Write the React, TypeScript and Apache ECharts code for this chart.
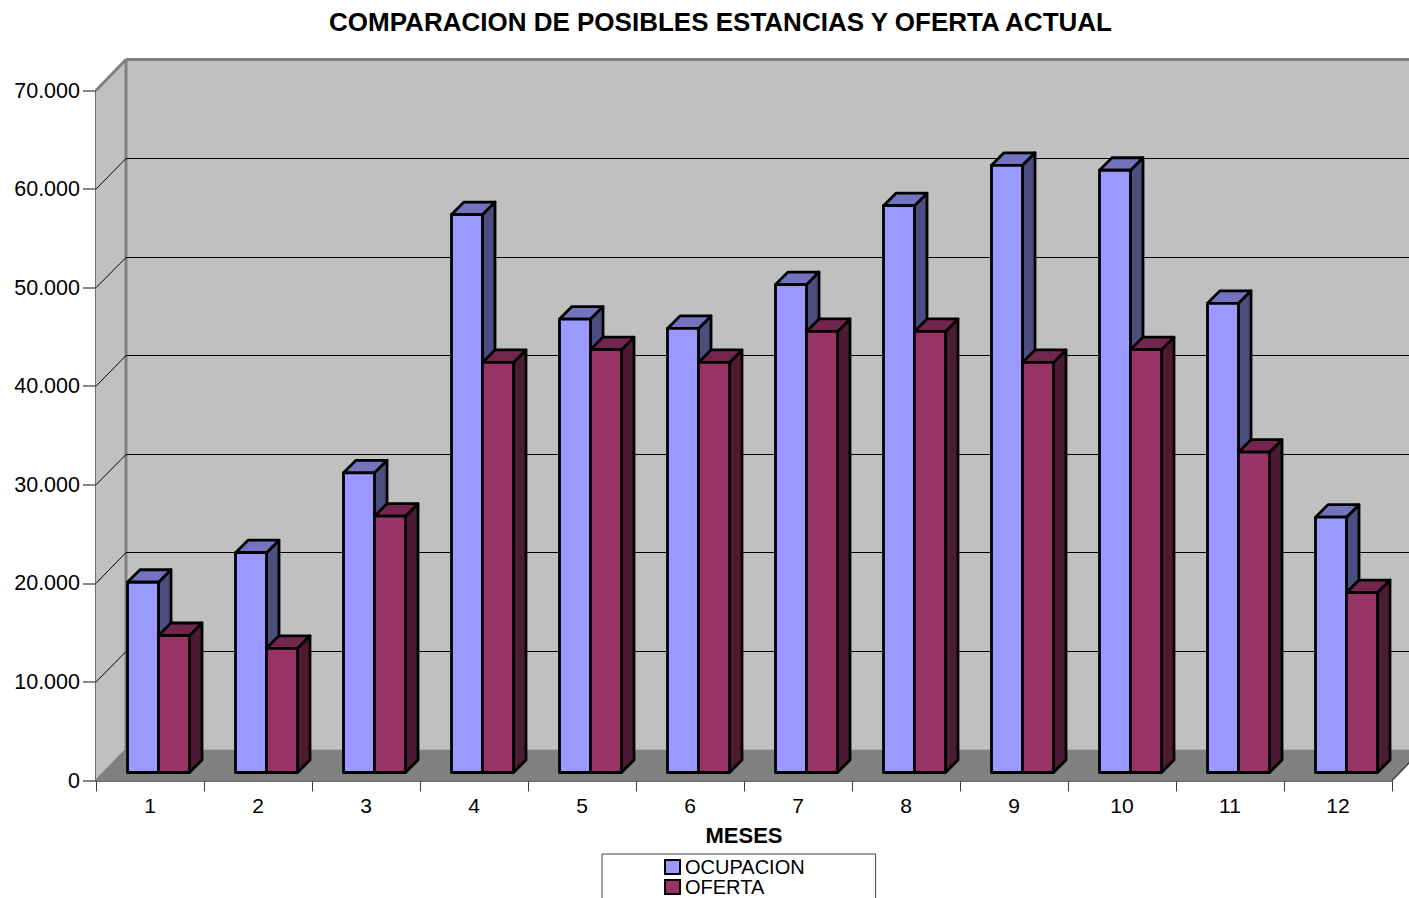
import React, { useEffect, useRef } from "react";
import * as echarts from "echarts";

const months = ["1", "2", "3", "4", "5", "6", "7", "8", "9", "10", "11", "12"];
const ocupacion = [19300, 22300, 30400, 56600, 46000, 45050, 49500, 57500, 61600, 61100, 47600, 25900];
const oferta = [13900, 12600, 26000, 41600, 42900, 41600, 44750, 44750, 41600, 42900, 32500, 18250];
const yTicks = [0, 10000, 20000, 30000, 40000, 50000, 60000, 70000];

const FONT = "'Liberation Sans', Arial, sans-serif";
const DX = 30;
const DY = 31;
const BAR_D = 12.5;
const BAR_W = 31;
const BAR_LIFT = 8;
const BAR_OFFSET = 31.5;

const darkLine = "#000000";

function polygon(points: number[][], fill: string, stroke: string, lineWidth: number) {
  return {
    type: "polygon",
    shape: { points },
    style: { fill, stroke, lineWidth, lineJoin: "round" },
  };
}

function line(x1: number, y1: number, x2: number, y2: number, stroke: string, lineWidth: number) {
  return { type: "line", shape: { x1, y1, x2, y2 }, style: { stroke, lineWidth } };
}

function renderWall(params: any, api: any) {
  const band = api.size([1, 0])[0];
  const left = api.coord([0, 0])[0] - band / 2;
  const right = api.coord([months.length - 1, 0])[0] + band / 2;
  const bottom = api.coord([0, 0])[1];
  const top = api.coord([0, yTicks[yTicks.length - 1]])[1];
  const value = api.value(1);
  const y = api.coord([0, value])[1];
  const children: any[] = [];
  if (params.dataIndex === 0) {
    children.push(
      polygon([[left + DX, top - DY], [right + DX, top - DY], [right + DX, bottom - DY], [left + DX, bottom - DY]], "#c0c0c0", "none", 0),
      polygon([[left, top], [left + DX, top - DY], [left + DX, bottom - DY], [left, bottom]], "#c0c0c0", "none", 0),
      polygon([[left, bottom], [left + DX, bottom - DY], [right + DX, bottom - DY], [right, bottom]], "#808080", "none", 0),
      line(left + DX, top - DY, right + DX, top - DY, "#808080", 3),
      line(left + DX, top - DY, left + DX, bottom - DY, "#808080", 3),
      line(left, top, left + DX, top - DY, "#808080", 3),
      line(left, bottom, left + DX, bottom - DY, "#808080", 2),
      line(right, bottom, right + DX, bottom - DY, "#404040", 1.5),
    );
  } else if (value < yTicks[yTicks.length - 1]) {
    const back = Math.round(y - DY) + 0.5;
    children.push(
      line(left, y, left + DX, back, darkLine, 1),
      line(left + DX, back, right + DX, back, darkLine, 1),
    );
  }
  return { type: "group", children };
}

function makeBarRenderer(position: number, front: string, topColor: string, side: string) {
  return (_params: any, api: any) => {
    const cat = api.value(0);
    const band = api.size([1, 0])[0];
    const x = api.coord([cat, 0])[0] - band / 2 + BAR_OFFSET + position * BAR_W;
    const base = api.coord([cat, 0])[1] - BAR_LIFT;
    const y = api.coord([cat, api.value(1)])[1] - BAR_LIFT;
    const w = BAR_W;
    const d = BAR_D;
    return {
      type: "group",
      children: [
        polygon([[x + w, y], [x + w + d, y - d], [x + w + d, base - d], [x + w, base]], side, "#000", 2.8),
        polygon([[x, y], [x + d, y - d], [x + w + d, y - d], [x + w, y]], topColor, "#000", 2.8),
        polygon([[x, y], [x + w, y], [x + w, base], [x, base]], front, "#000", 2.8),
      ],
    };
  };
}

export default function App() {
  const ref = useRef<HTMLDivElement>(null);

  useEffect(() => {
    document.body.style.margin = "0";
    document.body.style.overflow = "hidden";
    const chart = echarts.init(ref.current!, null, { renderer: "svg" });
    chart.setOption({
      animation: false,
      backgroundColor: "#ffffff",
      textStyle: { fontFamily: FONT, color: "#000" },
      title: {
        text: "COMPARACION DE POSIBLES ESTANCIAS Y OFERTA ACTUAL",
        left: 715.5,
        top: 4,
        textAlign: "center",
        textStyle: { fontFamily: FONT, fontSize: 26, fontWeight: "bold", color: "#000" },
      },
      grid: { left: 96, top: 90.5, width: 1296, height: 690, containLabel: false },
      legend: {
        left: 602,
        top: 854,
        height: 80,
        orient: "vertical",
        data: ["OCUPACION", "OFERTA"],
        padding: [3, 71, 14, 62],
        itemGap: 0,
        itemWidth: 15,
        itemHeight: 14,
        borderColor: "#404040",
        borderWidth: 1,
        backgroundColor: "#ffffff",
        selectedMode: false,
        icon: "rect",
        textStyle: { fontFamily: FONT, fontSize: 20, color: "#000", lineHeight: 14 },
        itemStyle: { borderColor: "#000", borderWidth: 2 },
      },
      xAxis: {
        type: "category",
        data: months,
        name: "MESES",
        nameLocation: "middle",
        nameGap: 44,
        nameTextStyle: { fontFamily: FONT, fontSize: 22, fontWeight: "bold", color: "#000" },
        axisLine: { show: true, onZero: false, lineStyle: { color: "#404040", width: 1.5 } },
        axisTick: { show: true, length: 11, lineStyle: { color: "#404040", width: 1 } },
        axisLabel: { fontFamily: FONT, fontSize: 21, color: "#000", margin: 14 },
        splitLine: { show: false },
      },
      yAxis: {
        type: "value",
        min: 0,
        max: 70000,
        interval: 10000,
        axisLine: { show: true, lineStyle: { color: "#404040", width: 1.5 } },
        axisTick: { show: true, length: 13, lineStyle: { color: "#606060", width: 1.5 } },
        axisLabel: {
          fontFamily: FONT,
          fontSize: 21.5,
          color: "#000",
          margin: 16,
          formatter: (v: number) => (v === 0 ? "0" : `${v / 1000}.000`),
        },
        splitLine: { show: false },
      },
      series: [
        {
          name: "wall",
          type: "custom",
          clip: false,
          silent: true,
          z: 1,
          renderItem: renderWall,
          data: yTicks.map((v) => [0, v]),
        },
        {
          name: "OCUPACION",
          type: "custom",
          clip: false,
          z: 3,
          itemStyle: { color: "#9999ff" },
          renderItem: makeBarRenderer(0, "#9999ff", "#7373bf", "#4d4d80"),
          encode: { x: 0, y: 1 },
          data: ocupacion.map((v, i) => [i, v]),
        },
        {
          name: "OFERTA",
          type: "custom",
          clip: false,
          z: 4,
          itemStyle: { color: "#993366" },
          renderItem: makeBarRenderer(1, "#993366", "#73264d", "#4d1a33"),
          encode: { x: 0, y: 1 },
          data: oferta.map((v, i) => [i, v]),
        },
      ],
    });
    return () => chart.dispose();
  }, []);

  return <div ref={ref} style={{ width: 1409, height: 898, overflow: "hidden" }} />;
}
